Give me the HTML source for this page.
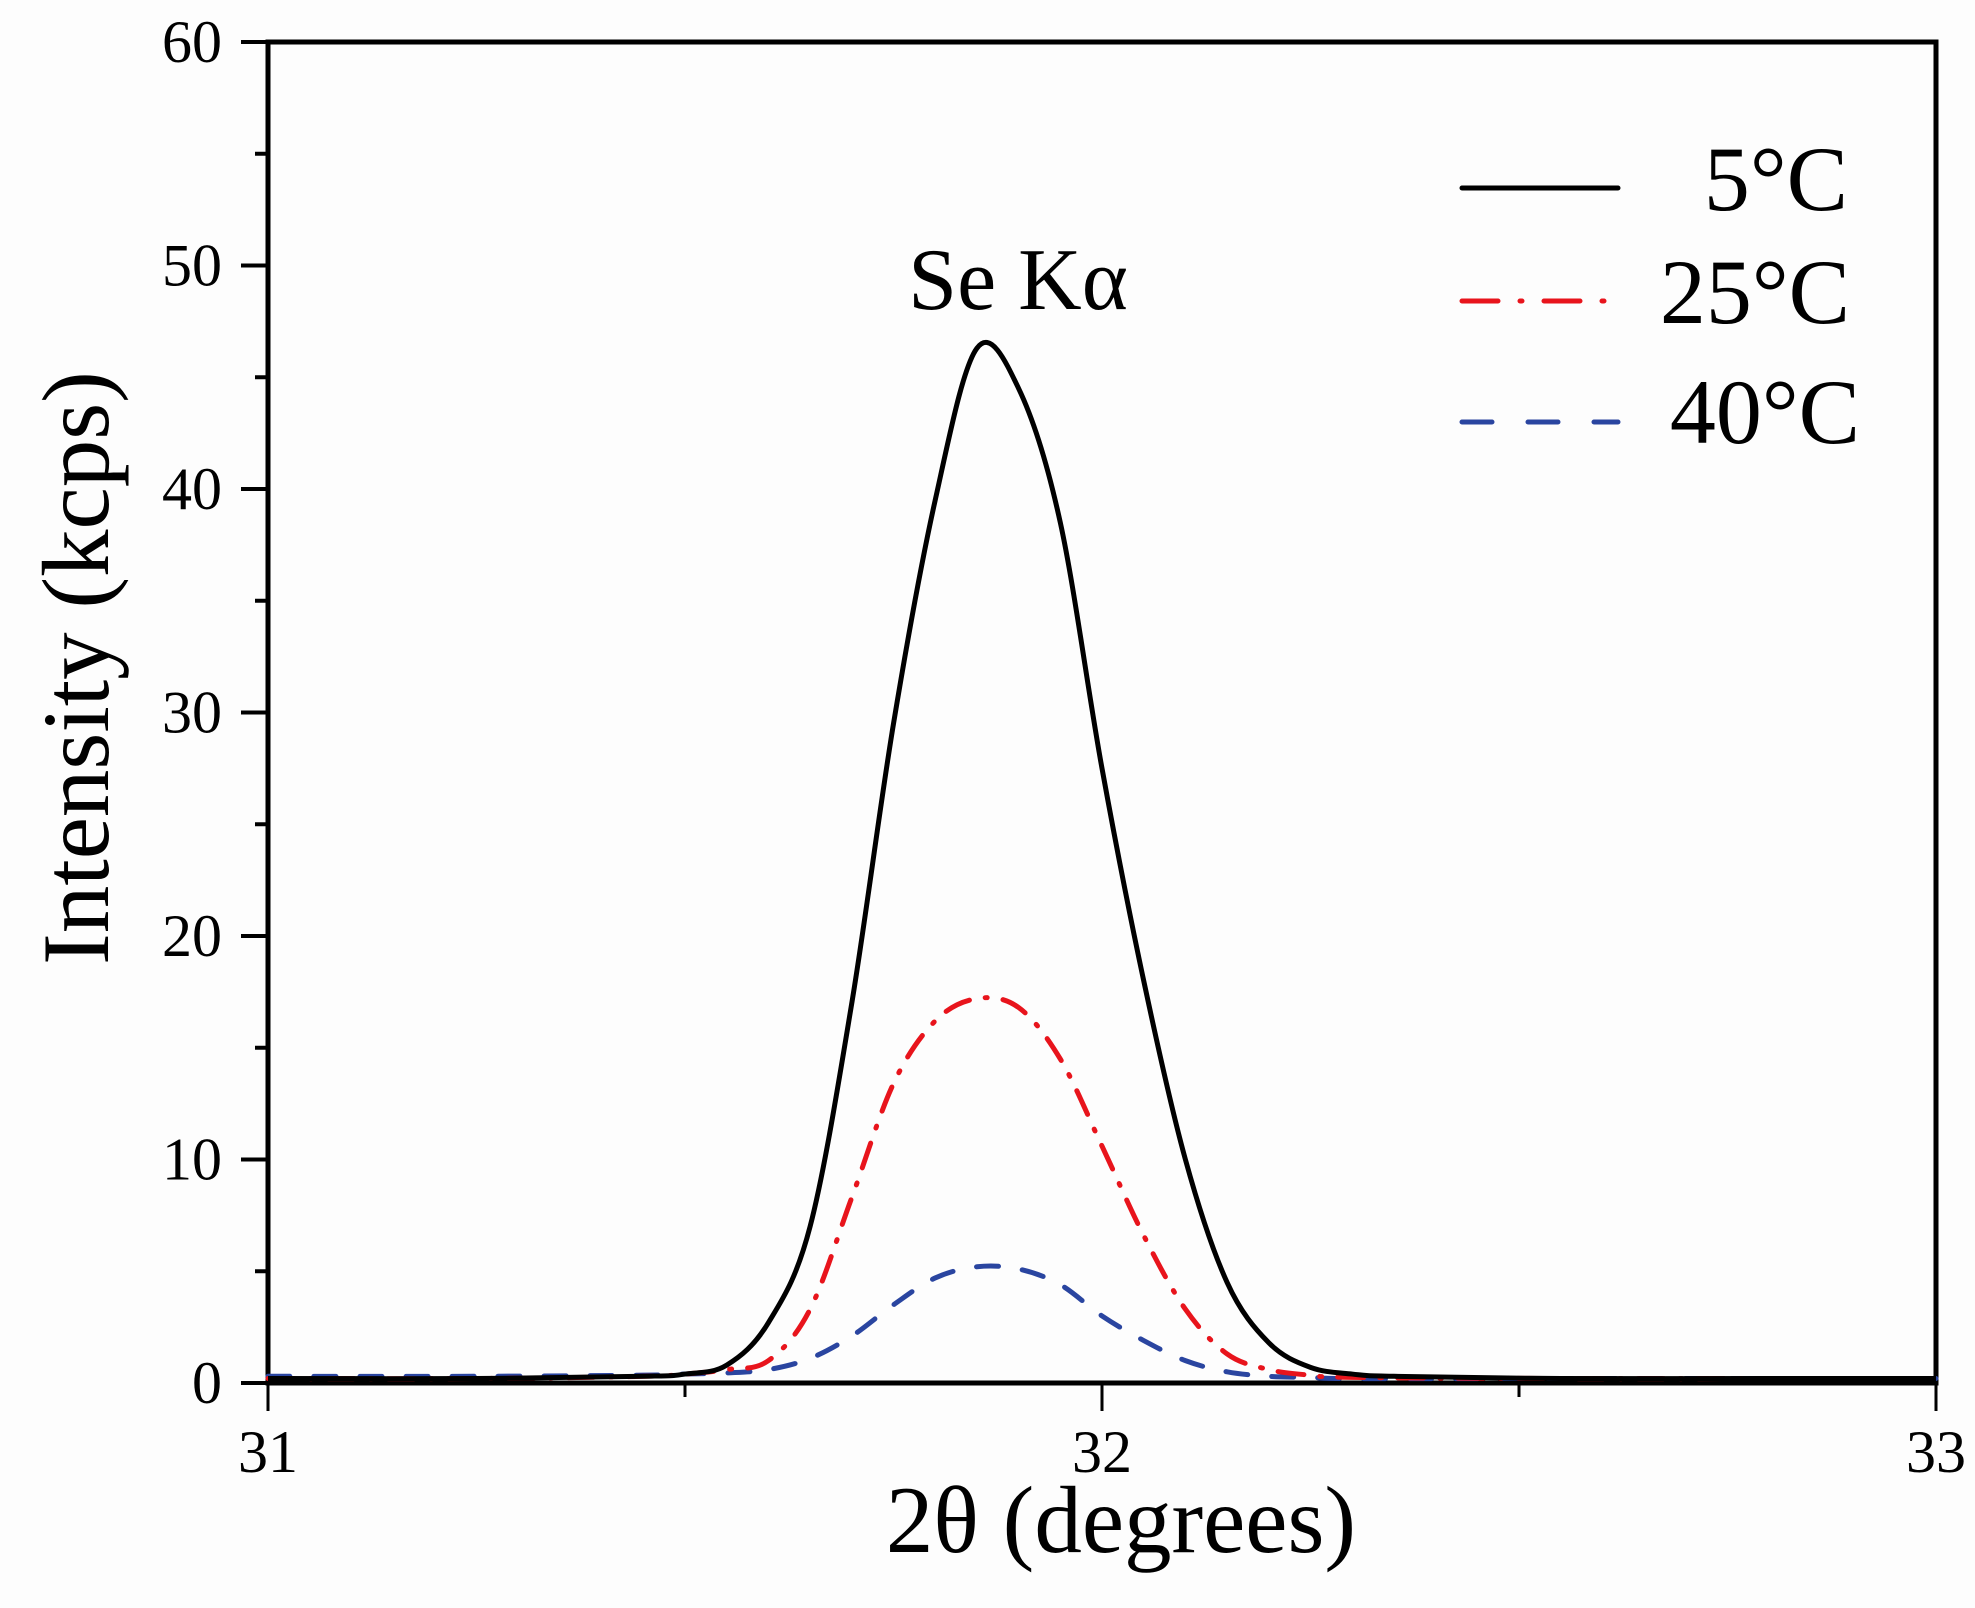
<!DOCTYPE html>
<html><head><meta charset="utf-8"><style>
html,body{margin:0;padding:0;background:#fdfdfd}
svg{display:block;font-family:"Liberation Serif",serif}
</style></head><body>
<svg id="chart" width="1975" height="1608" viewBox="0 0 1975 1608" xmlns="http://www.w3.org/2000/svg">
<rect x="0" y="0" width="1975" height="1608" fill="#fdfdfd"/>
<g id="axes"></g>
<g id="series"></g>
<text x="1018" y="309" font-size="88" text-anchor="middle">Se Kα</text>
<text x="1121" y="1552" font-size="95" text-anchor="middle">2θ (degrees)</text>
<text transform="translate(108,668) rotate(-90)" font-size="95" text-anchor="middle">Intensity (kcps)</text>
<g>
<line x1="1462" y1="188" x2="1618" y2="188" stroke="#000" stroke-width="5" stroke-linecap="round"/>
<text x="1848" y="210" font-size="92" text-anchor="end">5°C</text>
<line x1="1462" y1="301" x2="1618" y2="301" stroke="#e8141c" stroke-width="5" stroke-linecap="round" stroke-dasharray="36,22,2,22"/>
<text x="1850" y="323" font-size="92" text-anchor="end">25°C</text>
<line x1="1462" y1="422" x2="1618" y2="422" stroke="#2a45a0" stroke-width="5" stroke-linecap="round" stroke-dasharray="30,36"/>
<text x="1860" y="443" font-size="92" text-anchor="end">40°C</text>
</g>
</svg>
<script>
const xTicks = [31, 32, 33];
const yTicks = [0, 10, 20, 30, 40, 50, 60];
const xs5 = [31.0, 31.25, 31.45, 31.5, 31.55, 31.6, 31.65, 31.7, 31.75, 31.8, 31.85, 31.9, 31.95, 32.0, 32.05, 32.1, 32.15, 32.2, 32.25, 32.3, 32.35, 32.55, 32.8, 33.0];
const ys5 = [0.2, 0.2, 0.3, 0.4, 0.8, 2.7, 7, 17, 29.5, 39.5, 46.3, 44.5, 38.5, 27.5, 18, 10, 4.5, 1.8, 0.7, 0.4, 0.3, 0.2, 0.2, 0.2];
const xs25 = [31.0, 31.25, 31.45, 31.5, 31.55, 31.6, 31.65, 31.7, 31.75, 31.8, 31.85, 31.9, 31.95, 32.0, 32.05, 32.1, 32.15, 32.2, 32.25, 32.3, 32.55, 32.8, 33.0];
const ys25 = [0.2, 0.2, 0.3, 0.4, 0.6, 1.0, 3.3, 8.3, 13.4, 16.2, 17.2, 16.8, 14.5, 10.6, 6.6, 3.3, 1.3, 0.6, 0.35, 0.25, 0.2, 0.2, 0.2];
const xs40 = [31.0, 31.25, 31.45, 31.5, 31.55, 31.6, 31.65, 31.7, 31.75, 31.8, 31.85, 31.9, 31.95, 32.0, 32.05, 32.1, 32.15, 32.2, 32.25, 32.3, 32.55, 32.8, 33.0];
const ys40 = [0.3, 0.3, 0.35, 0.4, 0.45, 0.6, 1.1, 2.1, 3.5, 4.7, 5.2, 5.1, 4.4, 3.0, 1.9, 1.0, 0.5, 0.3, 0.25, 0.2, 0.2, 0.2, 0.2];

const L = 268, R = 1936, T = 42, B = 1383;
const xMin = 31, xMax = 33, yMin = 0, yMax = 60;
function sx(v){ return L + (v - xMin) / (xMax - xMin) * (R - L); }
function sy(v){ return B - (v - yMin) / (yMax - yMin) * (B - T); }
const NS = "http://www.w3.org/2000/svg";
const axes = document.getElementById('axes');
const seriesG = document.getElementById('series');
function mk(tag, attrs, parent){ const e = document.createElementNS(NS, tag); for (const k in attrs) e.setAttribute(k, attrs[k]); parent.appendChild(e); return e; }

const frame = mk('rect', {x:L, y:T, width:R-L, height:B-T, fill:'none', stroke:'#000', 'stroke-width':5}, axes);



for (let v = yMin; v <= yMax; v += 5) {
  const major = v % 10 === 0;
  const t = mk('line', {x1:L - (major ? 27 : 13), x2:L, y1:sy(v), y2:sy(v), stroke:'#000', 'stroke-width':4}, axes);
  
  
}
yTicks.forEach(v => {
  const t = mk('text', {x:222, y:sy(v) + 20, 'font-size':60, 'text-anchor':'end'}, axes);
  t.textContent = v;
  
  
});
for (let v = xMin; v <= xMax + 1e-9; v += 0.5) {
  const major = Math.abs(v - Math.round(v)) < 1e-9;
  const t = mk('line', {x1:sx(v), x2:sx(v), y1:B, y2:B + (major ? 28 : 14), stroke:'#000', 'stroke-width':3}, axes);
  
  
}
xTicks.forEach(v => {
  const t = mk('text', {x:sx(v), y:1472, 'font-size':60, 'text-anchor':'middle'}, axes);
  t.textContent = v;
  
  
});

function smoothPath(xs, ys){
  const p = xs.map((x, i) => [sx(x), sy(ys[i])]);
  let d = 'M' + p[0][0] + ',' + p[0][1];
  for (let i = 0; i < p.length - 1; i++) {
    const p0 = p[Math.max(0, i - 1)], p1 = p[i], p2 = p[i + 1], p3 = p[Math.min(p.length - 1, i + 2)];
    const c1x = p1[0] + (p2[0] - p0[0]) / 6, c1y = p1[1] + (p2[1] - p0[1]) / 6;
    const c2x = p2[0] - (p3[0] - p1[0]) / 6, c2y = p2[1] - (p3[1] - p1[1]) / 6;
    d += ' C' + c1x + ',' + c1y + ' ' + c2x + ',' + c2y + ' ' + p2[0] + ',' + p2[1];
  }
  return d;
}
const s40 = mk('path', {d:smoothPath(xs40, ys40), fill:'none', stroke:'#2a45a0', 'stroke-width':5, 'stroke-linecap':'round', 'stroke-dasharray':'22,24'}, seriesG);


const s25 = mk('path', {d:smoothPath(xs25, ys25), fill:'none', stroke:'#e8141c', 'stroke-width':5, 'stroke-linecap':'round', 'stroke-dasharray':'26,16,2,16'}, seriesG);


const s5 = mk('path', {d:smoothPath(xs5, ys5), fill:'none', stroke:'#000', 'stroke-width':5, 'stroke-linejoin':'round'}, seriesG);


</script>
</body></html>
